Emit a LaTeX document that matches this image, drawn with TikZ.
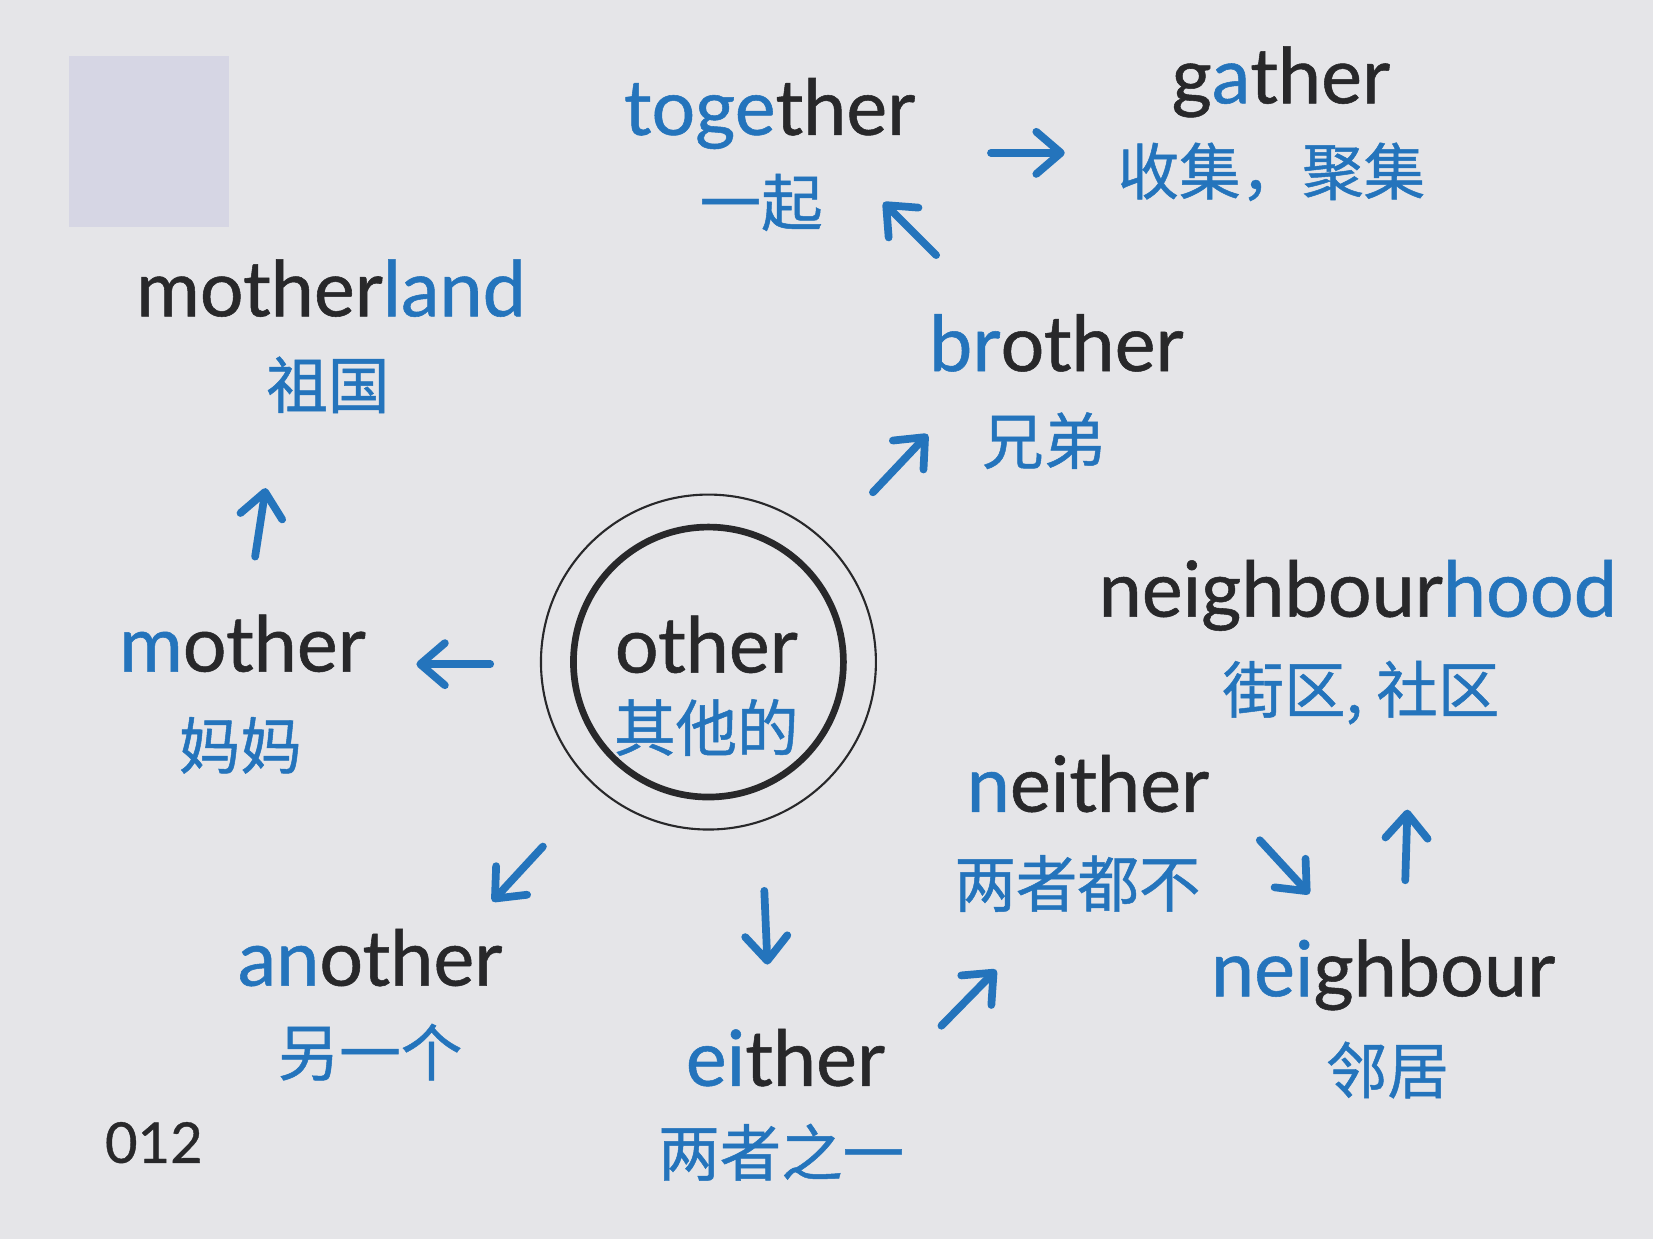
\documentclass[tikz,border=0pt]{standalone}
\usepackage{fontspec}
\setmainfont{Lato}[FakeBold=0.7]
\newfontfamily\cjk{Noto Sans CJK SC}[FakeBold=0.8]
\usetikzlibrary{arrows.meta}
\definecolor{wblue}{RGB}{36,116,188}
\definecolor{wdark}{RGB}{40,40,42}
\definecolor{paper}{RGB}{229,229,232}
\definecolor{stamp}{RGB}{214,214,228}
\newcommand{\bl}[1]{\textcolor{wblue}{#1}}
\begin{document}
\begin{tikzpicture}[x=0.010542cm,y=-0.010542cm,
  en/.style={anchor=base,inner sep=0pt,text=wdark,font=\fontsize{22}{26}\selectfont},
  zh/.style={anchor=center,inner sep=0pt,text=wblue,font=\cjk\fontsize{17.5}{20}\selectfont},
  arr/.style={draw=wblue,line width=2.2pt,line cap=round,line join=round,
    -{Straight Barb[length=7pt,width=12pt,round]}},
  ring/.style={circle,draw=wdark,inner sep=0pt}]
\useasboundingbox (0,0) rectangle (1568,1175);
\fill[paper] (0,0) rectangle (1568,1175);
\fill[stamp] (65,53) rectangle (217,215);

% centre
\node[ring,line width=0.6pt,minimum size=3.35cm] (outer) at (672,628) {};
\node[ring,line width=1.9pt,minimum size=2.70cm] (inner) at (672,628) {};
\node[en] (other) at (670,638) {other};
\node[zh] (otherzh) at (670,690) {其他的};

% words
\node[en] (together) at (730,128) {\bl{toge}ther};
\node[zh] (togetherzh) at (722,192) {一起};
\node[en] (gather) at (1215,98) {g\bl{a}ther};
\node[zh] (gatherzh) at (1206,163) {收集，聚集};
\node[en] (motherland) at (314,300) {mother\bl{land}};
\node[zh] (motherlandzh) at (311,365) {祖国};
\node[en] (brother) at (1002,352) {\bl{br}other};
\node[zh] (brotherzh) at (990,418) {兄弟};
\node[en] (mother) at (230,637) {\bl{m}other};
\node[zh] (motherzh) at (228,707) {妈妈};
\node[en] (neighbourhood) at (1288,585) {neighbour\bl{hood}};
\node[zh] (neighbourhoodzh) at (1291,657) {街区, 社区};
\node[en] (neither) at (1032,770) {\bl{n}either};
\node[zh] (neitherzh) at (1022,838) {两者都不};
\node[en] (neighbour) at (1312,945) {\bl{nei}ghbour};
\node[zh] (neighbourzh) at (1316,1015) {邻居};
\node[en] (another) at (351,935) {\bl{an}other};
\node[zh] (anotherzh) at (351,998) {另一个};
\node[en] (either) at (745,1030) {\bl{ei}ther};
\node[zh] (eitherzh) at (741,1093) {两者之一};
\node[en,font=\fontsize{16}{19}\selectfont] (page) at (146,1103) {012};

% arrow ends
\coordinate (a1s) at (465,630);  \coordinate (a1e) at (395,630);
\coordinate (a2s) at (242,528);  \coordinate (a2e) at (252,463);
\coordinate (a3s) at (828,467);  \coordinate (a3e) at (880,412);
\coordinate (a4s) at (888,242);  \coordinate (a4e) at (838,192);
\coordinate (a5s) at (940,145);  \coordinate (a5e) at (1010,145);
\coordinate (a6s) at (515,803);  \coordinate (a6e) at (467,855);
\coordinate (a7s) at (725,845);  \coordinate (a7e) at (728,915);
\coordinate (a8s) at (893,973);  \coordinate (a8e) at (945,920);
\coordinate (a9s) at (1195,797); \coordinate (a9e) at (1242,848);
\coordinate (a10s) at (1333,835); \coordinate (a10e) at (1335,768);

\foreach \i in {1,...,10} \draw[arr] (a\i s) -- (a\i e);
\end{tikzpicture}
\end{document}
